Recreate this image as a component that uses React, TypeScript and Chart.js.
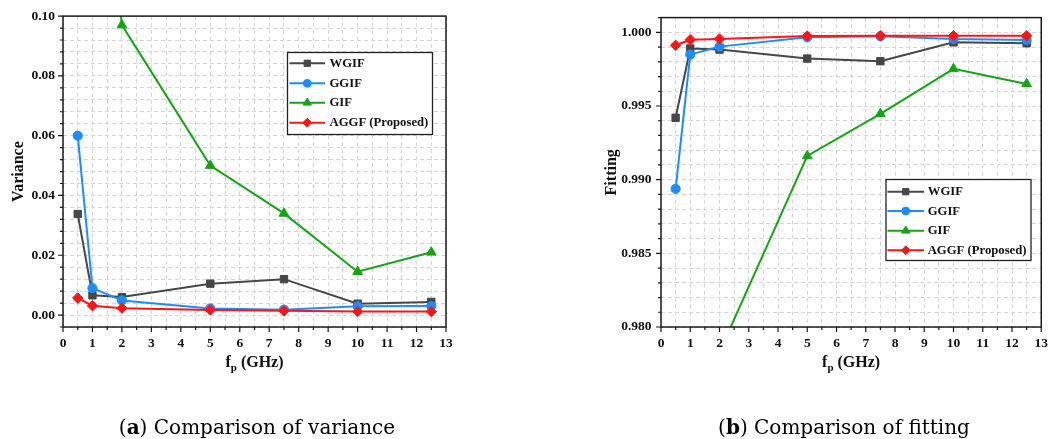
import React, { useEffect, useRef } from 'react';
import { Chart, registerables } from 'chart.js';

Chart.register(...registerables);

// ---------------- data ----------------
const frequencies = [0.5, 1, 2, 5, 7.5, 10, 12.5];
const seriesNames = ['WGIF', 'GGIF', 'GIF', 'AGGF (Proposed)'];

const varianceWGIF = [0.0338, 0.0066, 0.006, 0.0105, 0.012, 0.0038, 0.0044];
const varianceGGIF = [0.06, 0.009, 0.0049, 0.0022, 0.0018, 0.0029, 0.003];
const varianceGIF = [0.3, 0.19, 0.097, 0.05, 0.034, 0.0145, 0.021];
const varianceAGGF = [0.0057, 0.0031, 0.0023, 0.0017, 0.0014, 0.0012, 0.0012];

const fittingWGIF = [0.9942, 0.9989, 0.99883, 0.99822, 0.99804, 0.99932, 0.99926];
const fittingGGIF = [0.98938, 0.99849, 0.99903, 0.99966, 0.99973, 0.99955, 0.99948];
const fittingGIF = [0.9412, 0.9625, 0.9783, 0.99161, 0.99447, 0.99752, 0.9965];
const fittingAGGF = [0.99912, 0.9995, 0.99955, 0.99975, 0.99977, 0.99977, 0.99977];

const xTickLabels = ['0', '1', '2', '3', '4', '5', '6', '7', '8', '9', '10', '11', '12', '13'];
const varianceTickLabels = ['0.00', '0.02', '0.04', '0.06', '0.08', '0.10'];
const fittingTickLabels = ['0.980', '0.985', '0.990', '0.995', '1.000'];

// ---------------- styles ----------------
const SERIF = '"Liberation Serif", "Times New Roman", serif';
const CAPTION_FONT = '"DejaVu Serif", serif';

const seriesStyles = [
  { color: '#474747', point: 'rect', radius: 5.2 },
  { color: '#1e8cff', point: 'circle', radius: 4.6 },
  { color: '#16a316', point: 'triangle', radius: 5.6 },
  { color: '#ff1515', point: 'rectRot', radius: 5.2 },
];

function drawMarker(ctx: CanvasRenderingContext2D, style: string, x: number, y: number, r: number) {
  ctx.beginPath();
  if (style === 'rect') {
    const s = r * Math.SQRT1_2;
    ctx.rect(x - s, y - s, 2 * s, 2 * s);
  } else if (style === 'circle') {
    ctx.arc(x, y, r, 0, Math.PI * 2);
  } else if (style === 'triangle') {
    ctx.moveTo(x, y - r);
    ctx.lineTo(x + r * Math.sin((2 * Math.PI) / 3), y - r * Math.cos((2 * Math.PI) / 3));
    ctx.lineTo(x + r * Math.sin((4 * Math.PI) / 3), y - r * Math.cos((4 * Math.PI) / 3));
    ctx.closePath();
  } else {
    ctx.moveTo(x, y - r);
    ctx.lineTo(x + r, y);
    ctx.lineTo(x, y + r);
    ctx.lineTo(x - r, y);
    ctx.closePath();
  }
  ctx.fill();
  ctx.stroke();
}

type PanelCfg = {
  left: number;
  width: number;
  height: number;
  padding: { left: number; top: number; right: number; bottom: number };
  yWidth: number;
  xHeight: number;
  yMin: number;
  yMax: number;
  yStep: number;
  yLabels: string[];
  yTitle: string;
  yPad: number;
  series: number[][];
  legend: { x1: number; y1: number; x2: number; y2: number; lineX1: number; lineX2: number; textX: number; ys: number[] };
  xTitleBaseline: number;
  captionLetter: string;
  captionText: string;
  captionCenter: number;
  captionBaseline: number;
};

function findLabel(labels: string[], v: number) {
  const l = labels.find((s) => Math.abs(Number(s) - v) < 1e-9);
  return l === undefined ? '' : l;
}

function buildChart(canvas: HTMLCanvasElement, cfg: PanelCfg) {
  const decor = {
    id: 'decor',
    afterDraw(chart: any) {
      const ctx: CanvasRenderingContext2D = chart.ctx;
      const a = chart.chartArea;
      const xs = chart.scales.x;
      const ys = chart.scales.y;
      ctx.save();
      // tick marks
      ctx.strokeStyle = '#1a1a1a';
      ctx.lineWidth = 1.2;
      ctx.setLineDash([]);
      ctx.beginPath();
      xs.ticks.forEach((t: any) => {
        const p = xs.getPixelForValue(t.value);
        const len = t.label ? 5 : 3;
        ctx.moveTo(p, a.bottom);
        ctx.lineTo(p, a.bottom + len);
      });
      ys.ticks.forEach((t: any) => {
        const p = ys.getPixelForValue(t.value);
        const len = t.label ? 5 : 3;
        ctx.moveTo(a.left, p);
        ctx.lineTo(a.left - len, p);
      });
      ctx.stroke();
      // frame
      ctx.lineWidth = 1.5;
      ctx.strokeRect(a.left, a.top, a.right - a.left, a.bottom - a.top);

      // legend
      const lg = cfg.legend;
      ctx.fillStyle = '#ffffff';
      ctx.fillRect(lg.x1, lg.y1, lg.x2 - lg.x1, lg.y2 - lg.y1);
      ctx.strokeStyle = '#222222';
      ctx.lineWidth = 1.3;
      ctx.strokeRect(lg.x1, lg.y1, lg.x2 - lg.x1, lg.y2 - lg.y1);
      seriesNames.forEach((name, i) => {
        const st = seriesStyles[i];
        const y = lg.ys[i];
        ctx.strokeStyle = st.color;
        ctx.fillStyle = st.color;
        ctx.lineWidth = 2;
        ctx.beginPath();
        ctx.moveTo(lg.lineX1, y);
        ctx.lineTo(lg.lineX2, y);
        ctx.stroke();
        ctx.lineWidth = 1;
        drawMarker(ctx, st.point, (lg.lineX1 + lg.lineX2) / 2, y, st.radius * 0.85);
        ctx.fillStyle = '#111111';
        ctx.font = `bold 12.7px ${SERIF}`;
        ctx.textAlign = 'left';
        ctx.textBaseline = 'middle';
        ctx.fillText(name, lg.textX, y + 0.5);
      });

      // x title: f_p (GHz)
      ctx.fillStyle = '#111111';
      ctx.textAlign = 'left';
      ctx.textBaseline = 'alphabetic';
      const big = `bold 16px ${SERIF}`;
      const small = `bold 11px ${SERIF}`;
      ctx.font = big;
      const w1 = ctx.measureText('f').width;
      const w3 = ctx.measureText(' (GHz)').width;
      ctx.font = small;
      const w2 = ctx.measureText('p').width;
      let x = (a.left + a.right) / 2 - (w1 + w2 + w3) / 2;
      const by = cfg.xTitleBaseline;
      ctx.font = big;
      ctx.fillText('f', x, by);
      x += w1;
      ctx.font = small;
      ctx.fillText('p', x, by + 4);
      x += w2;
      ctx.font = big;
      ctx.fillText(' (GHz)', x, by);

      // caption
      const reg = `20px ${CAPTION_FONT}`;
      const bold = `bold 20px ${CAPTION_FONT}`;
      ctx.fillStyle = '#000000';
      ctx.font = reg;
      const c1 = ctx.measureText('(').width;
      const c3 = ctx.measureText(') ' + cfg.captionText).width;
      ctx.font = bold;
      const c2 = ctx.measureText(cfg.captionLetter).width;
      let cx = cfg.captionCenter - (c1 + c2 + c3) / 2;
      ctx.font = reg;
      ctx.fillText('(', cx, cfg.captionBaseline);
      cx += c1;
      ctx.font = bold;
      ctx.fillText(cfg.captionLetter, cx, cfg.captionBaseline);
      cx += c2;
      ctx.font = reg;
      ctx.fillText(') ' + cfg.captionText, cx, cfg.captionBaseline);
      ctx.restore();
    },
  };

  const datasets = cfg.series.map((vals, i) => ({
    label: seriesNames[i],
    data: frequencies.map((f, j) => ({ x: f, y: vals[j] })),
    borderColor: seriesStyles[i].color,
    backgroundColor: seriesStyles[i].color,
    pointBackgroundColor: seriesStyles[i].color,
    pointBorderColor: seriesStyles[i].color,
    pointStyle: seriesStyles[i].point,
    pointRadius: seriesStyles[i].radius,
    pointBorderWidth: 1,
    borderWidth: 2,
    tension: 0,
    order: 3 - i,
  }));

  return new Chart(canvas, {
    type: 'line',
    data: { datasets } as any,
    plugins: [decor],
    options: {
      animation: false,
      responsive: false,
      devicePixelRatio: 1,
      layout: { padding: cfg.padding },
      plugins: { legend: { display: false }, tooltip: { enabled: false } },
      scales: {
        x: {
          type: 'linear',
          min: 0,
          max: 13,
          afterFit: (s: any) => {
            s.height = cfg.xHeight;
          },
          grid: { color: '#d6d6d6', lineWidth: 1, drawTicks: false },
          border: { display: false, dash: [4, 3] },
          ticks: {
            stepSize: 0.5,
            autoSkip: false,
            maxRotation: 0,
            minRotation: 0,
            padding: 8,
            color: '#111111',
            font: { family: SERIF, size: 13.5, weight: 'bold' },
            callback: (v: any) => findLabel(xTickLabels, Number(v)),
          },
        },
        y: {
          type: 'linear',
          min: cfg.yMin,
          max: cfg.yMax,
          afterFit: (s: any) => {
            s.width = cfg.yWidth;
          },
          grid: { color: '#d6d6d6', lineWidth: 1, drawTicks: false },
          border: { display: false, dash: [4, 3] },
          title: {
            display: true,
            text: cfg.yTitle,
            color: '#111111',
            font: { family: SERIF, size: 16, weight: 'bold' },
            padding: { top: 9.5, bottom: 0 },
          },
          ticks: {
            stepSize: cfg.yStep,
            autoSkip: false,
            padding: cfg.yPad,
            color: '#111111',
            font: { family: SERIF, size: 13.5, weight: 'bold' },
            callback: (v: any) => findLabel(cfg.yLabels, Number(v)),
          },
        },
      },
    } as any,
  });
}

const leftPanel: PanelCfg = {
  left: 0,
  width: 528,
  height: 439,
  padding: { left: 0, top: 16, right: 82, bottom: 0 },
  yWidth: 63,
  xHeight: 112,
  yMin: -0.004,
  yMax: 0.1,
  yStep: 0.004,
  yLabels: varianceTickLabels,
  yTitle: 'Variance',
  yPad: 8,
  series: [varianceWGIF, varianceGGIF, varianceGIF, varianceAGGF],
  legend: { x1: 287.5, y1: 52.5, x2: 432.5, y2: 134.5, lineX1: 289.5, lineX2: 325, textX: 329.5, ys: [63.3, 83.3, 102.7, 122.7] },
  xTitleBaseline: 366.5,
  captionLetter: 'a',
  captionText: 'Comparison of variance',
  captionCenter: 257,
  captionBaseline: 433.5,
};

const rightPanel: PanelCfg = {
  left: 528,
  width: 528,
  height: 439,
  padding: { left: 65, top: 16, right: 12, bottom: 0 },
  yWidth: 68,
  xHeight: 112,
  yMin: 0.98,
  yMax: 1.001,
  yStep: 0.001,
  yLabels: fittingTickLabels,
  yTitle: 'Fitting',
  yPad: 9.5,
  series: [fittingWGIF, fittingGGIF, fittingGIF, fittingAGGF],
  legend: { x1: 358, y1: 179.5, x2: 503, y2: 260.5, lineX1: 359.5, lineX2: 396, textX: 399.7, ys: [191.7, 211, 230.7, 250.3] },
  xTitleBaseline: 366.5,
  captionLetter: 'b',
  captionText: 'Comparison of fitting',
  captionCenter: 316,
  captionBaseline: 433.5,
};

function ChartPanel({ cfg }: { cfg: PanelCfg }) {
  const ref = useRef<HTMLCanvasElement>(null);
  useEffect(() => {
    const chart = buildChart(ref.current as HTMLCanvasElement, cfg);
    return () => chart.destroy();
  }, [cfg]);
  return (
    <canvas
      ref={ref}
      width={cfg.width}
      height={cfg.height}
      style={{ position: 'absolute', left: cfg.left, top: 0, width: cfg.width, height: cfg.height }}
    />
  );
}

export default function App() {
  return (
    <div style={{ position: 'absolute', left: 0, top: 0, width: 1056, height: 439, background: '#ffffff' }}>
      <ChartPanel cfg={leftPanel} />
      <ChartPanel cfg={rightPanel} />
    </div>
  );
}
